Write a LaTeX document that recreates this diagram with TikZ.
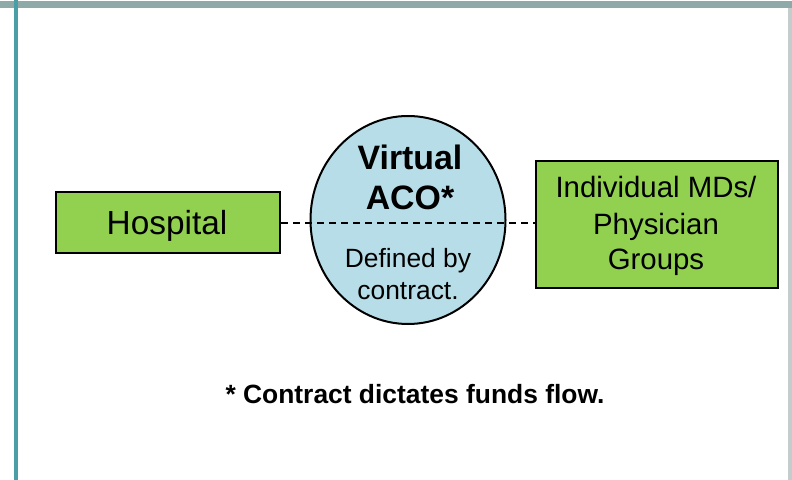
\documentclass[tikz,border=0pt]{standalone}
\usepackage{fontspec}
\setmainfont{Liberation Sans}
\usetikzlibrary{shapes.geometric}
\definecolor{boxgreen}{HTML}{92D050}
\definecolor{acoblue}{HTML}{B7DEE8}
\definecolor{frameteal}{HTML}{4A9EA6}
\definecolor{framegray}{HTML}{8FA8A8}
\definecolor{edgegray}{HTML}{C4CCCC}
\tikzset{
  greenbox/.style={draw=black, line width=2bp, fill=boxgreen, inner sep=0pt, anchor=north west},
  acoshape/.style={ellipse, draw=black, line width=2bp, fill=acoblue, inner sep=0pt},
  link/.style={draw=black, line width=1.6bp, dash pattern=on 7bp off 5bp},
  txt/.style={anchor=base, inner sep=0pt, text=black},
}
\begin{document}
\begin{tikzpicture}[x=1bp,y=-1bp]
\path[use as bounding box, fill=white] (0,0) rectangle (792,480);
% frame
\fill[framegray] (0,1.5) rectangle (792,8.5);
\fill[edgegray] (788,8.5) rectangle (792,480);
\fill[frameteal] (13.5,0) rectangle (18,480);
% shapes
\node[greenbox, minimum width=224bp, minimum height=61bp] (hosp) at (55,191) {};
\node[greenbox, minimum width=242bp, minimum height=127bp] (mds) at (535,160) {};
\node[acoshape, minimum width=195bp, minimum height=208bp] (aco) at (408,220) {};
% connector
\coordinate (hr) at ([yshift=-0.5bp]hosp.east);
\coordinate (ml) at (mds.west |- hr);
\draw[link] (hr) -- (ml);
% texts
\node[txt, font=\fontsize{33.5}{36}\selectfont] (thosp) at (167,235) {Hospital};
\node[txt, font=\fontsize{29.5}{35}\selectfont] (tmd1) at (656,198) {Individual MDs/};
\node[txt, font=\fontsize{29.5}{35}\selectfont] (tmd2) at (656,235) {Physician};
\node[txt, font=\fontsize{29.5}{35}\selectfont] (tmd3) at (656,270) {Groups};
\node[txt, font=\fontsize{34}{40}\selectfont\bfseries] (tv1) at (410,170) {Virtual};
\node[txt, font=\fontsize{34}{40}\selectfont\bfseries] (tv2) at (410,210) {ACO*};
\node[txt, font=\fontsize{26.5}{32}\selectfont] (td1) at (408,268) {Defined by};
\node[txt, font=\fontsize{26.5}{32}\selectfont] (td2) at (408,300) {contract.};
\node[txt, font=\fontsize{26.5}{32}\selectfont\bfseries] (foot) at (415,403) {* Contract dictates funds flow.};
\end{tikzpicture}
\end{document}
